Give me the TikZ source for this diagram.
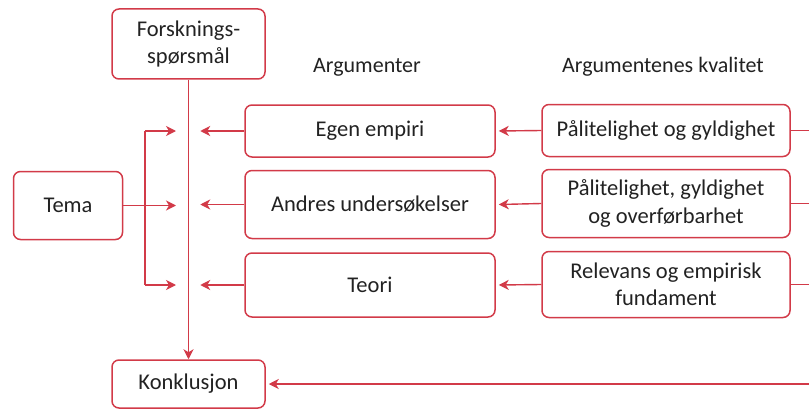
\documentclass[tikz,border=0pt]{standalone}
\usepackage{fontspec}
\setmainfont{Carlito}
\usetikzlibrary{arrows.meta}
\definecolor{linered}{HTML}{D23A48}
\definecolor{txt}{HTML}{222222}
\begin{document}
\begin{tikzpicture}[x=1pt,y=-1pt,
  box/.style={draw=linered,line width=1.5pt,rounded corners=7pt,align=center,
    text=txt,font=\fontsize{22.5}{27.5}\selectfont,inner sep=0pt},
  head/.style={text=txt,font=\fontsize{22}{27}\selectfont},
  conn/.style={draw=linered,line width=1.4pt},
  arr/.style={conn,-{Stealth[length=10pt,width=10pt,inset=3pt]}}]
\useasboundingbox (0,0) rectangle (809,412);
% boxes
\node[box,minimum width=153pt,minimum height=70pt] (fs) at (188.5,44) {Forsknings-\\spørsmål};
\node[box,minimum width=109pt,minimum height=68pt] (tema) at (68,205.5) {Tema};
\node[box,minimum width=153pt,minimum height=48pt] (konk) at (188.5,384) {Konklusjon};
\node[box,minimum width=250pt,minimum height=52pt] (egen) at (370,131) {Egen empiri};
\node[box,minimum width=250pt,minimum height=68pt] (andre) at (370,204.5) {Andres undersøkelser};
\node[box,minimum width=250pt,minimum height=64pt] (teori) at (370,285) {Teori};
\node[box,minimum width=248pt,minimum height=52pt] (q1) at (666,130.5) {Pålitelighet og gyldighet};
\node[box,minimum width=248pt,minimum height=68pt] (q2) at (666,203.5) {Pålitelighet, gyldighet\\og overførbarhet};
\node[box,minimum width=248pt,minimum height=66pt] (q3) at (666,284.5) {Relevans og empirisk\\fundament};
% column headings
\node[head] (h1) at (367,67) {Argumenter};
\node[head] (h2) at (663,67) {Argumentenes kvalitet};
% main vertical line
\draw[arr] (fs.south) -- (konk.north);
% branches from Tema
\coordinate (tj) at (145,205.5);
\draw[conn] (tema.east) -- (tj);
\draw[conn] (tj |- egen.west) -- (tj |- teori.west);
\draw[arr] (tj |- egen.west) -- ++(31,0);
\draw[arr] (tj) -- ++(31,0);
\draw[arr] (tj |- teori.west) -- ++(31,0);
% arguments towards the main line
\draw[arr] (egen.west) -- ++(-44,0);
\draw[arr] (andre.west) -- ++(-44,0);
\draw[arr] (teori.west) -- ++(-44,0);
% quality into arguments
\draw[arr] (q1.west) -- ([xshift=3pt]egen.east);
\draw[arr] (q2.west) -- ([xshift=3pt]andre.east);
\draw[arr] (q3.west) -- ([xshift=3pt]teori.east);
% outgoing lines on the right
\coordinate (r1) at (809,0);
\draw[conn] (q1.east) -- (q1.east -| r1);
\draw[conn] (q2.east) -- (q2.east -| r1);
\draw[conn] (q3.east) -- (q3.east -| r1);
\draw[arr] (konk.east -| r1) -- ([xshift=3pt]konk.east);
\end{tikzpicture}
\end{document}
